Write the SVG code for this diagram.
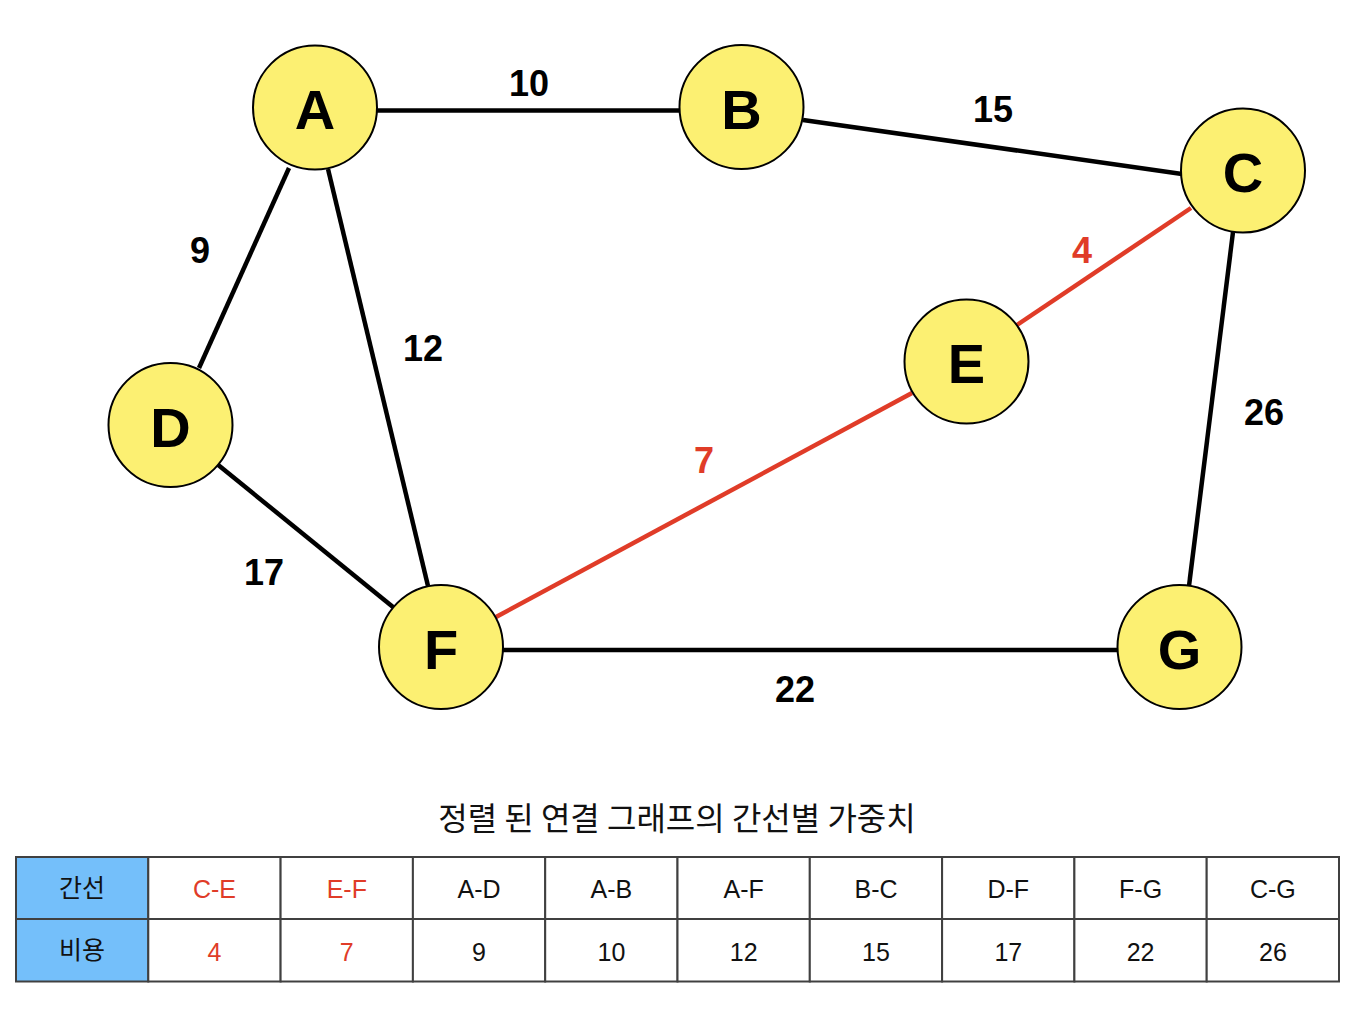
<svg xmlns="http://www.w3.org/2000/svg" width="1370" height="1010" viewBox="0 0 1370 1010">
<style>
.edge{stroke:#000;stroke-width:4.5;fill:none}
.hl{stroke:#E03C28;stroke-width:4.5;fill:none}
.node circle{fill:#FCF072;stroke:#000;stroke-width:2}
.node text{font-family:"Liberation Sans",Arial,sans-serif;font-weight:bold;font-size:56px;text-anchor:middle;fill:#000}
.w{font-family:"Liberation Sans",Arial,sans-serif;font-weight:bold;font-size:36px;text-anchor:middle;fill:#000}
.wr{fill:#E03C28}
.title{font-family:"Noto Sans CJK KR",sans-serif;font-size:32px;text-anchor:middle;fill:#111}
.cell{fill:#fff;stroke:#404040;stroke-width:2}
.hcell{fill:#74BFFA;stroke:#404040;stroke-width:2}
.t{font-family:"Liberation Sans","Noto Sans CJK KR",sans-serif;font-size:25px;text-anchor:middle;fill:#111}
.tr{fill:#E03C28}
</style>
<rect width="1370" height="1010" fill="#fff"/>
<g id="connectors">
<line class="edge" x1="377" y1="110.5" x2="680" y2="110.5"/>
<line class="edge" x1="803" y1="120" x2="1182" y2="174"/>
<line class="hl" x1="1191" y1="208" x2="1017" y2="325"/>
<line class="hl" x1="912" y1="393" x2="496" y2="617"/>
<line class="edge" x1="1233" y1="232" x2="1189" y2="586"/>
<line class="edge" x1="503" y1="650" x2="1118" y2="650"/>
<line class="edge" x1="289" y1="168" x2="199" y2="368"/>
<line class="edge" x1="328" y1="169" x2="428" y2="586"/>
<line class="edge" x1="217" y1="464" x2="393" y2="607"/>
<text class="w" x="529" y="96">10</text>
<text class="w" x="993" y="122">15</text>
<text class="w wr" x="1082" y="263">4</text>
<text class="w" x="200" y="263">9</text>
<text class="w" x="423" y="361">12</text>
<text class="w" x="1264" y="425">26</text>
<text class="w wr" x="704" y="473">7</text>
<text class="w" x="264" y="585">17</text>
<text class="w" x="795" y="702">22</text>
</g>
<g id="node-A" class="node"><circle cx="315" cy="107.5" r="62"/><text x="315" y="129">A</text></g>
<g id="node-B" class="node"><circle cx="741.5" cy="107" r="62"/><text x="741.5" y="128.5">B</text></g>
<g id="node-C" class="node"><circle cx="1243" cy="170.5" r="62"/><text x="1243" y="192">C</text></g>
<g id="node-D" class="node"><circle cx="170.5" cy="425" r="62"/><text x="170.5" y="446.5">D</text></g>
<g id="node-E" class="node"><circle cx="966.5" cy="361.5" r="62"/><text x="966.5" y="383">E</text></g>
<g id="node-F" class="node"><circle cx="441" cy="647" r="62"/><text x="441" y="668.5">F</text></g>
<g id="node-G" class="node"><circle cx="1179.5" cy="647" r="62"/><text x="1179.5" y="668.5">G</text></g>
<g id="table">
<text class="title" x="677" y="830">정렬 된 연결 그래프의 간선별 가중치</text>
<rect class="hcell" x="16" y="857" width="132.3" height="62"/>
<rect class="hcell" x="16" y="919" width="132.3" height="62.5"/>
<rect class="cell" x="148.3" y="857" width="132.3" height="62"/>
<rect class="cell" x="148.3" y="919" width="132.3" height="62.5"/>
<rect class="cell" x="280.6" y="857" width="132.3" height="62"/>
<rect class="cell" x="280.6" y="919" width="132.3" height="62.5"/>
<rect class="cell" x="412.9" y="857" width="132.3" height="62"/>
<rect class="cell" x="412.9" y="919" width="132.3" height="62.5"/>
<rect class="cell" x="545.2" y="857" width="132.3" height="62"/>
<rect class="cell" x="545.2" y="919" width="132.3" height="62.5"/>
<rect class="cell" x="677.5" y="857" width="132.3" height="62"/>
<rect class="cell" x="677.5" y="919" width="132.3" height="62.5"/>
<rect class="cell" x="809.8" y="857" width="132.3" height="62"/>
<rect class="cell" x="809.8" y="919" width="132.3" height="62.5"/>
<rect class="cell" x="942.1" y="857" width="132.3" height="62"/>
<rect class="cell" x="942.1" y="919" width="132.3" height="62.5"/>
<rect class="cell" x="1074.4" y="857" width="132.3" height="62"/>
<rect class="cell" x="1074.4" y="919" width="132.3" height="62.5"/>
<rect class="cell" x="1206.7" y="857" width="132.3" height="62"/>
<rect class="cell" x="1206.7" y="919" width="132.3" height="62.5"/>
<text class="t" x="82" y="897">간선</text>
<text class="t" x="82" y="959">비용</text>
<text class="t tr" x="214.5" y="898">C-E</text>
<text class="t tr" x="214.5" y="961">4</text>
<text class="t tr" x="346.8" y="898">E-F</text>
<text class="t tr" x="346.8" y="961">7</text>
<text class="t" x="479" y="898">A-D</text>
<text class="t" x="479" y="961">9</text>
<text class="t" x="611.4" y="898">A-B</text>
<text class="t" x="611.4" y="961">10</text>
<text class="t" x="743.7" y="898">A-F</text>
<text class="t" x="743.7" y="961">12</text>
<text class="t" x="876" y="898">B-C</text>
<text class="t" x="876" y="961">15</text>
<text class="t" x="1008.3" y="898">D-F</text>
<text class="t" x="1008.3" y="961">17</text>
<text class="t" x="1140.6" y="898">F-G</text>
<text class="t" x="1140.6" y="961">22</text>
<text class="t" x="1272.9" y="898">C-G</text>
<text class="t" x="1272.9" y="961">26</text>
</g>
</svg>
